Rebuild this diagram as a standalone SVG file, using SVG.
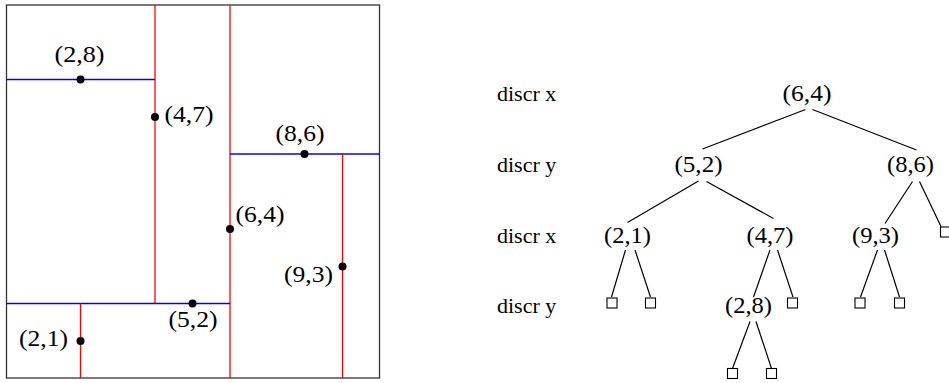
<svg xmlns="http://www.w3.org/2000/svg" width="949" height="383" viewBox="0 0 949 383">
<style>
  text { font-family: 'Liberation Serif', 'Times New Roman', Times, serif; fill: #000; }
  .lbl { font-size: 22px; }
  .pt { font-size: 23px; }
  .red { stroke: #ff0000; stroke-width: 1.3; fill: none; }
  .blue { stroke: #0000ff; stroke-width: 1.3; fill: none; }
  .edge { stroke: #000; stroke-width: 1.2; fill: none; }
  .leaf { stroke: #000; stroke-width: 1.1; fill: #fff; }
</style>
<rect x="0" y="0" width="949" height="383" fill="#fff"/>

<!-- Left panel: k-d tree space partition -->
<g id="partition">
  <rect x="6.5" y="5" width="373" height="373" fill="none" stroke="#333" stroke-width="1.3"/>
  <line class="red" x1="230" y1="5" x2="230" y2="378"/>
  <line class="red" x1="155" y1="5" x2="155" y2="303.5"/>
  <line class="blue" x1="6.5" y1="303.5" x2="230" y2="303.5"/>
  <line class="blue" x1="6.5" y1="79.5" x2="155" y2="79.5"/>
  <line class="red" x1="80.5" y1="303.5" x2="80.5" y2="378"/>
  <line class="blue" x1="230" y1="154" x2="379.5" y2="154"/>
  <line class="red" x1="342.5" y1="154" x2="342.5" y2="378"/>
</g>
<g font-family="Liberation Serif, serif">
<g id="p28"><circle cx="80.5" cy="79.5" r="4"/><text class="pt" x="79.5" y="62" text-anchor="middle" textLength="50" lengthAdjust="spacingAndGlyphs">(2,8)</text></g>
<g id="p47"><circle cx="155" cy="117" r="4"/><text class="pt" x="164.5" y="122" textLength="49" lengthAdjust="spacingAndGlyphs">(4,7)</text></g>
<g id="p86"><circle cx="304.5" cy="154" r="4"/><text class="pt" x="275.5" y="141" textLength="49" lengthAdjust="spacingAndGlyphs">(8,6)</text></g>
<g id="p64"><circle cx="230" cy="229" r="4"/><text class="pt" x="235.5" y="222" textLength="49" lengthAdjust="spacingAndGlyphs">(6,4)</text></g>
<g id="p93"><circle cx="342.5" cy="266.5" r="4"/><text class="pt" x="284" y="282" textLength="49" lengthAdjust="spacingAndGlyphs">(9,3)</text></g>
<g id="p52"><circle cx="192.5" cy="303.5" r="4"/><text class="pt" x="168.5" y="327" textLength="49" lengthAdjust="spacingAndGlyphs">(5,2)</text></g>
<g id="p21"><circle cx="80.5" cy="341" r="4"/><text class="pt" x="19" y="346" textLength="49" lengthAdjust="spacingAndGlyphs">(2,1)</text></g>

<!-- Level labels -->
<g id="levels">
  <text class="lbl" x="497" y="101">discr x</text>
  <text class="lbl" x="497" y="172">discr y</text>
  <text class="lbl" x="497" y="243">discr x</text>
  <text class="lbl" x="497" y="313">discr y</text>
</g>
</g>

<!-- Connectors -->
<g id="connectors">
  <line class="edge" x1="805.5" y1="109.5" x2="702.5" y2="149"/>
  <line class="edge" x1="812.5" y1="109.5" x2="916.5" y2="150"/>
  <line class="edge" x1="698.5" y1="181" x2="627.5" y2="222.5"/>
  <line class="edge" x1="706.5" y1="181.5" x2="773.5" y2="218.5"/>
  <line class="edge" x1="912.5" y1="181.5" x2="885" y2="223.5"/>
  <line class="edge" x1="919.5" y1="181.5" x2="941" y2="226.5"/>
  <line class="edge" x1="625.5" y1="250" x2="611.5" y2="297"/>
  <line class="edge" x1="635" y1="250" x2="650.5" y2="297"/>
  <line class="edge" x1="770" y1="250" x2="753.5" y2="297"/>
  <line class="edge" x1="777.5" y1="250" x2="793" y2="297"/>
  <line class="edge" x1="877.5" y1="250" x2="860.5" y2="297"/>
  <line class="edge" x1="884.5" y1="250" x2="899.5" y2="297"/>
  <line class="edge" x1="750" y1="321.5" x2="732.5" y2="368.5"/>
  <line class="edge" x1="756" y1="321.5" x2="771.5" y2="368.5"/>
</g>

<!-- Tree nodes -->
<g font-family="Liberation Serif, serif">
<g id="n64"><text class="pt" x="807" y="101" text-anchor="middle" textLength="49" lengthAdjust="spacingAndGlyphs">(6,4)</text></g>
<g id="n52"><text class="pt" x="698.5" y="172" text-anchor="middle" textLength="48" lengthAdjust="spacingAndGlyphs">(5,2)</text></g>
<g id="n86"><text class="pt" x="910.5" y="172" text-anchor="middle" textLength="47" lengthAdjust="spacingAndGlyphs">(8,6)</text></g>
<g id="n21"><text class="pt" x="627.5" y="243" text-anchor="middle" textLength="47" lengthAdjust="spacingAndGlyphs">(2,1)</text></g>
<g id="n47"><text class="pt" x="770" y="243" text-anchor="middle" textLength="47" lengthAdjust="spacingAndGlyphs">(4,7)</text></g>
<g id="n93"><text class="pt" x="875.5" y="243" text-anchor="middle" textLength="47" lengthAdjust="spacingAndGlyphs">(9,3)</text></g>
<g id="n28"><text class="pt" x="748.5" y="313" text-anchor="middle" textLength="47" lengthAdjust="spacingAndGlyphs">(2,8)</text></g>
</g>
<g id="leaf1"><rect class="leaf" x="607" y="298" width="10" height="10"/></g>
<g id="leaf2"><rect class="leaf" x="645.5" y="298" width="10" height="10"/></g>
<g id="leaf3"><rect class="leaf" x="787.5" y="298" width="10" height="10"/></g>
<g id="leaf4"><rect class="leaf" x="855" y="298" width="10" height="10"/></g>
<g id="leaf5"><rect class="leaf" x="894.5" y="298" width="10" height="10"/></g>
<g id="leaf6"><rect class="leaf" x="940.5" y="227" width="10" height="10"/></g>
<g id="leaf7"><rect class="leaf" x="727.5" y="368.5" width="10" height="10"/></g>
<g id="leaf8"><rect class="leaf" x="766.5" y="368.5" width="10" height="10"/></g>
</svg>
